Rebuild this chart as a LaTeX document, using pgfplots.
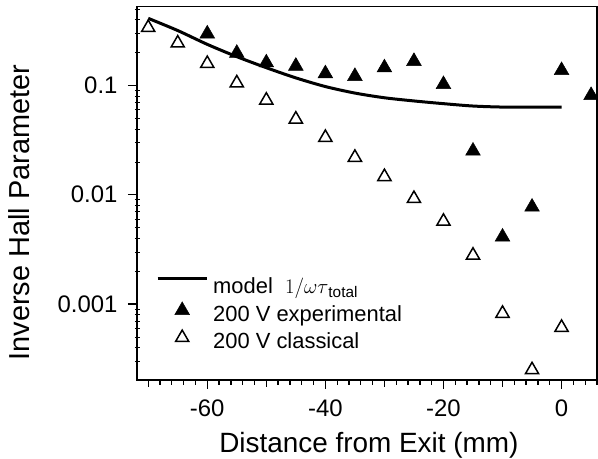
\documentclass[border=0pt]{standalone}
\usepackage{fontspec}
\setmainfont{Liberation Sans}
\usepackage{pgfplots}
\pgfplotsset{compat=1.18}

% legend glyphs: a wide line and a single centred mark
\pgfplotsset{
  linelegend/.style={legend image code/.code={\draw[##1] (0bp,8bp) -- (49bp,8bp);}},
  marklegend/.style={legend image code/.code={\draw[mark repeat=2,mark phase=2,##1] plot coordinates {(0bp,4bp) (24.5bp,4bp) (49bp,4bp)};}},
}

% Inverse Hall parameter along the channel, 200 V operating point
\begin{document}
\begin{tikzpicture}
\begin{axis}[
  scale only axis, width=460bp, height=373.5bp,
  ymode=log,
  xmin=-71.9, xmax=6.0, ymin=2.02e-4, ymax=0.526,
  axis line style={line width=1.8bp},
  tick align=outside,
  xtick pos=left, ytick pos=left,
  tick style={line width=1.3bp, black},
  major tick length=9bp, minor tick length=5bp,
  xtick={-60,-40,-20,0}, xticklabels={-60,-40,-20,0},
  extra x ticks={-70,-50,-30,-10}, extra x tick labels={},
  extra x tick style={major tick length=7bp},
  minor xtick={-70,-68,...,6},
  ytick={0.001,0.01,0.1}, yticklabels={0.001,0.01,0.1},
  minor ytick={3e-4,4e-4,5e-4,6e-4,7e-4,8e-4,9e-4,2e-3,3e-3,4e-3,5e-3,6e-3,7e-3,8e-3,9e-3,2e-2,3e-2,4e-2,5e-2,6e-2,7e-2,8e-2,9e-2,0.2,0.3,0.4,0.5},
  minor y tick style={line width=0.5bp, xshift=3bp},
  tick label style={font=\fontsize{24}{27}\selectfont},
  yticklabel style={xshift=-7bp},
  xticklabel style={yshift=-7bp},
  xlabel={Distance from Exit (mm)},
  ylabel={Inverse Hall Parameter},
  xlabel style={font=\fontsize{28}{32}\selectfont, at={(axis description cs:0.504,-0.193)}, anchor=base},
  ylabel style={font=\fontsize{29}{32}\selectfont, at={(axis description cs:-0.2326,0.448)}, anchor=base},
  legend cell align=left,
  legend style={at={(0.0413,0.178)}, anchor=west, draw=none, fill=none,
    inner sep=0pt, row sep=7bp, column sep=5bp,
    font=\fontsize{22}{26}\selectfont, nodes={inner sep=0pt}},
]
% model curve
\addplot[black, line width=3bp, smooth, linelegend]
  coordinates {
  (-70,0.410) (-65,0.317) (-60,0.237) (-55,0.183) (-50,0.145)
  (-45,0.117) (-40,0.0975) (-35,0.085) (-30,0.077) (-25,0.072)
  (-20,0.068) (-15,0.0647) (-10,0.0633) (-5,0.0633) (0,0.0633)
  };
\addlegendentry{model \ $1/\omega\tau$\textsubscript{total}}
% measured
\addplot[only marks, mark=triangle*, mark size=8.5bp, mark options={fill=black, draw=black, line width=0.5bp}, marklegend]
  coordinates {
  (-60,0.296) (-55,0.197) (-50,0.161) (-45,0.150) (-40,0.128)
  (-35,0.121) (-30,0.145) (-25,0.166) (-20,0.102) (-15,0.0251)
  (-10,0.00411) (-5,0.00772) (0,0.137) (5,0.081)
  };
\addlegendentry{200 V experimental}
% classical
\addplot[only marks, mark=triangle, mark size=7.6bp, mark options={fill=white, draw=black, line width=1.5bp}, marklegend]
  coordinates {
  (-70,0.337) (-65,0.243) (-60,0.158) (-55,0.105) (-50,0.073)
  (-45,0.049) (-40,0.0333) (-35,0.0219) (-30,0.0146) (-25,0.0092)
  (-20,0.0057) (-15,0.00279) (-10,0.00082) (-5,0.000250) (0,0.00061)
  };
\addlegendentry{200 V classical}
\end{axis}
\pgfresetboundingbox
\path[use as bounding box] (-137bp,-79bp) rectangle (461bp,380bp);
\end{tikzpicture}
\end{document}
